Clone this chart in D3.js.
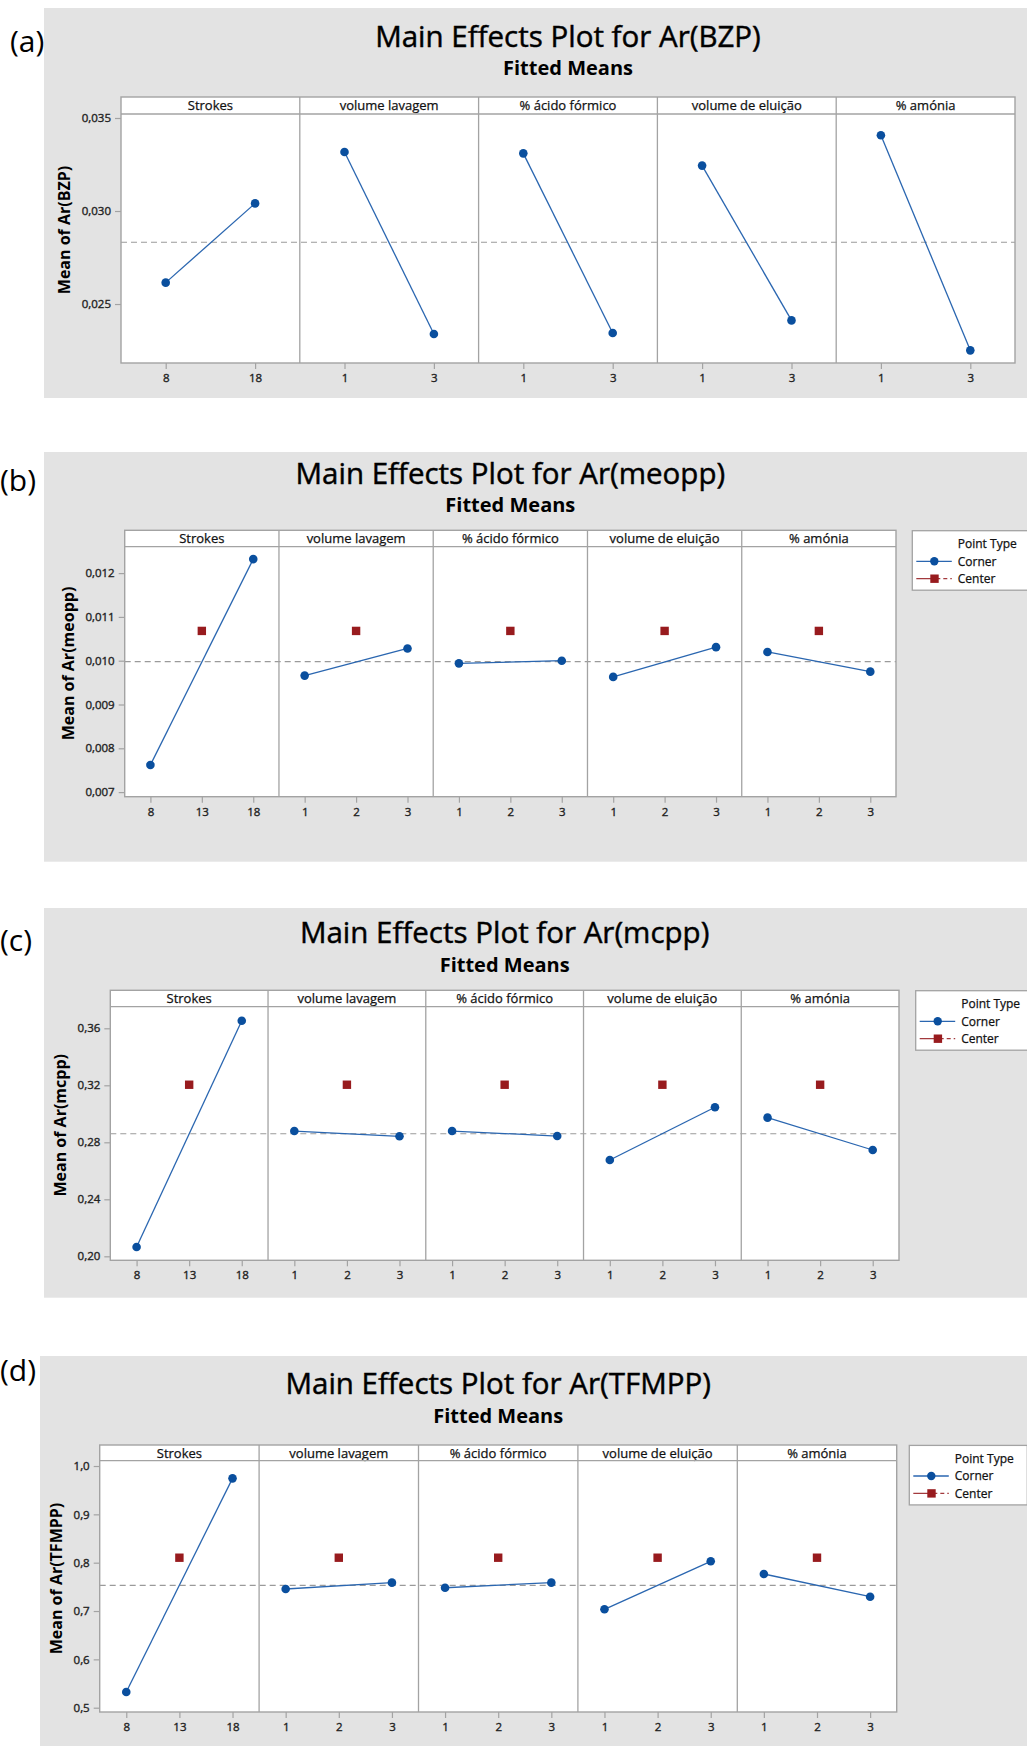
<!DOCTYPE html>
<html>
<head>
<meta charset="utf-8">
<script src="https://cdn.jsdelivr.net/npm/d3@7"></script>
<style>
  html, body { margin: 0; padding: 0; background: #ffffff; }
  svg { display: block; font-family: "Open Sans", "Noto Sans", sans-serif; }
  .heavy { stroke: currentColor; paint-order: stroke; }
</style>
</head>
<body>
<svg id="fig" width="1027" height="1746"></svg>
<script>
// Factors shown in every panel (one facet per factor)
const factors = ["Strokes", "volume lavagem", "% ácido fórmico", "volume de eluição", "% amónia"];

// Factor levels: corner-only design (a) and corner + center design (b–d)
const levelsTwo = [[8, 18], [1, 3], [1, 3], [1, 3], [1, 3]];
const levelsThree = [[8, 13, 18], [1, 2, 3], [1, 2, 3], [1, 2, 3], [1, 2, 3]];

// (a) Ar(BZP): fitted means at low / high level of each factor
const bzpCorner = [[0.02615, 0.03041], [0.03317, 0.02339], [0.03310, 0.02344], [0.03244, 0.02412], [0.03407, 0.02251]];
const bzpMean = 0.02832;
const bzpTicks = [0.025, 0.030, 0.035];

// (b) Ar(meopp)
const meoppCorner = [[0.00762, 0.01232], [0.00966, 0.01028], [0.00994, 0.01000], [0.00963, 0.01031], [0.01020, 0.00975]];
const meoppCenter = 0.01068;
const meoppMean = 0.00998;
const meoppTicks = [0.007, 0.008, 0.009, 0.010, 0.011, 0.012];

// (c) Ar(mcpp)
const mcppCorner = [[0.2065, 0.3653], [0.2879, 0.2842], [0.2879, 0.2844], [0.2676, 0.3046], [0.2973, 0.2746]];
const mcppCenter = 0.3204;
const mcppMean = 0.2860;
const mcppTicks = [0.20, 0.24, 0.28, 0.32, 0.36];

// (d) Ar(TFMPP)
const tfmppCorner = [[0.5325, 0.9745], [0.7456, 0.7587], [0.7482, 0.7587], [0.7036, 0.8029], [0.7766, 0.7296]];
const tfmppCenter = 0.8103;
const tfmppMean = 0.7532;
const tfmppTicks = [0.5, 0.6, 0.7, 0.8, 0.9, 1.0];

// Decimal comma formatting
const locale = d3.formatLocale({ decimal: ",", thousands: ".", grouping: [3], currency: ["", ""] });

const charts = [
  { tag: "(a)", tagX: 10, tagY: 52, bg: [44, 8, 983, 390],
    title: "Main Effects Plot for Ar(BZP)", titleY: 47, subY: 75,
    left: 121, right: 1015, stripTop: 97, plotTop: 114, bottom: 363,
    yDomain: [0.02183, 0.035215], ticks: bzpTicks, fmt: locale.format(".3f"),
    levels: levelsTwo, corner: bzpCorner, center: null, mean: bzpMean,
    yLabel: "Mean of Ar(BZP)", legendX: null },
  { tag: "(b)", tagX: 0, tagY: 491, bg: [44, 452, 983, 409.7],
    title: "Main Effects Plot for Ar(meopp)", titleY: 484, subY: 512,
    left: 124.7, right: 896, stripTop: 530.3, plotTop: 546.7, bottom: 796.7,
    yDomain: [0.006895, 0.012603], ticks: meoppTicks, fmt: locale.format(".3f"),
    levels: levelsThree, corner: meoppCorner, center: meoppCenter, mean: meoppMean,
    yLabel: "Mean of Ar(meopp)", legendX: 912.3 },
  { tag: "(c)", tagX: 0, tagY: 951, bg: [44, 908, 983, 389.7],
    title: "Main Effects Plot for Ar(mcpp)", titleY: 942.7, subY: 971.7,
    left: 110.3, right: 899, stripTop: 990.3, plotTop: 1006.7, bottom: 1260.3,
    yDomain: [0.1972, 0.37516], ticks: mcppTicks, fmt: locale.format(".2f"),
    levels: levelsThree, corner: mcppCorner, center: mcppCenter, mean: mcppMean,
    yLabel: "Mean of Ar(mcpp)", legendX: 915.7 },
  { tag: "(d)", tagX: 0, tagY: 1381, bg: [40, 1356, 987, 390],
    title: "Main Effects Plot for Ar(TFMPP)", titleY: 1394, subY: 1423.3,
    left: 99.7, right: 896.7, stripTop: 1445, plotTop: 1460.7, bottom: 1712,
    yDomain: [0.4911, 1.011], ticks: tfmppTicks, fmt: locale.format(".1f"),
    levels: levelsThree, corner: tfmppCorner, center: tfmppCenter, mean: tfmppMean,
    yLabel: "Mean of Ar(TFMPP)", legendX: 909.3 }
];

const COL = {
  bg: "#e3e3e3", frame: "#a3a3a3", line: "#2a66b0", dot: "#0a4f9e",
  center: "#981b1e", ref: "#9a9a9a", text: "#000", tick: "#222"
};

const svg = d3.select("#fig");

charts.forEach(c => {
  const g = svg.append("g");

  // grey chart background
  g.append("rect").attr("x", c.bg[0]).attr("y", c.bg[1])
    .attr("width", c.bg[2]).attr("height", c.bg[3]).attr("fill", COL.bg);

  // panel tag
  g.append("text").attr("x", c.tagX).attr("y", c.tagY)
    .attr("font-size", 30).attr("fill", "#000").text(c.tag);

  const cx = (c.left + c.right) / 2;
  g.append("text").attr("class", "heavy").attr("x", cx).attr("y", c.titleY).attr("text-anchor", "middle")
    .attr("font-size", 29.5).attr("fill", COL.text).style("color", COL.text)
    .attr("stroke-width", 0.45).text(c.title);
  g.append("text").attr("x", cx).attr("y", c.subY).attr("text-anchor", "middle")
    .attr("font-size", 20).attr("font-weight", "bold").attr("fill", COL.text).text("Fitted Means");

  const y = d3.scaleLinear().domain(c.yDomain).range([c.bottom, c.plotTop]);
  const band = d3.scaleBand().domain(factors).range([c.left, c.right]).padding(0);
  const pw = band.bandwidth();

  // white plotting area and strip
  g.append("rect").attr("x", c.left).attr("y", c.stripTop)
    .attr("width", c.right - c.left).attr("height", c.bottom - c.stripTop).attr("fill", "#fff");

  // mean reference line across all facets
  g.append("line").attr("x1", c.left).attr("x2", c.right)
    .attr("y1", y(c.mean)).attr("y2", y(c.mean))
    .attr("stroke", COL.ref).attr("stroke-width", 1.2).attr("stroke-dasharray", "6,4");

  // y axis
  const yAxis = g.append("g").attr("transform", `translate(${c.left},0)`)
    .call(d3.axisLeft(y).tickValues(c.ticks).tickFormat(c.fmt).tickSize(6).tickPadding(4));
  yAxis.select(".domain").remove();
  yAxis.selectAll("line").attr("stroke", COL.frame).attr("stroke-width", 1.2);
  yAxis.selectAll("text").attr("class", "heavy").attr("font-size", 11.5).attr("fill", COL.tick)
    .style("color", COL.tick).attr("stroke-width", 0.35)
    .attr("font-family", "'Open Sans', sans-serif");

  let minLeft = c.left;
  yAxis.selectAll("text").each(function () {
    const b = this.getBBox();
    minLeft = Math.min(minLeft, c.left + b.x);
  });

  // y axis title
  const ty = (c.stripTop + c.bottom) / 2;
  const tx = minLeft - 17;
  g.append("text").attr("transform", `translate(${tx},${ty}) rotate(-90)`)
    .attr("text-anchor", "middle").attr("dy", "0.35em")
    .attr("font-size", 16).attr("font-weight", "bold").attr("fill", COL.text).text(c.yLabel);

  factors.forEach((f, i) => {
    const x0 = band(f);
    const lv = c.levels[i];
    const lo = lv[0], hi = lv[lv.length - 1];
    const pad = lv.length === 2 ? (hi - lo) / 2 : (hi - lo) / 4;
    const x = d3.scaleLinear().domain([lo - pad, hi + pad]).range([x0, x0 + pw]);

    // x axis for this facet
    const xAxis = g.append("g").attr("transform", `translate(0,${c.bottom})`)
      .call(d3.axisBottom(x).tickValues(lv).tickFormat(d3.format("d")).tickSize(6).tickPadding(5));
    xAxis.select(".domain").remove();
    xAxis.selectAll("line").attr("stroke", COL.frame).attr("stroke-width", 1.2);
    xAxis.selectAll("text").attr("class", "heavy").attr("font-size", 11.5).attr("fill", COL.tick)
      .style("color", COL.tick).attr("stroke-width", 0.35)
      .attr("font-family", "'Open Sans', sans-serif");

    // strip label
    g.append("text").attr("class", "heavy").attr("x", x0 + pw / 2).attr("y", (c.stripTop + c.plotTop) / 2)
      .attr("dy", "0.36em").attr("text-anchor", "middle")
      .attr("font-size", 13).attr("fill", "#111").style("color", "#111")
      .attr("stroke-width", 0.25).text(f);

    // corner points joined by a line
    const pts = [[lo, c.corner[i][0]], [hi, c.corner[i][1]]];
    g.append("path").datum(pts)
      .attr("d", d3.line().x(d => x(d[0])).y(d => y(d[1])))
      .attr("fill", "none").attr("stroke", COL.line).attr("stroke-width", 1.3);
    g.selectAll(null).data(pts).join("circle")
      .attr("cx", d => x(d[0])).attr("cy", d => y(d[1])).attr("r", 4.3)
      .attr("fill", COL.dot);

    // center point
    if (c.center !== null) {
      const mid = lv[1];
      g.append("rect").attr("x", x(mid) - 4.2).attr("y", y(c.center) - 4.2)
        .attr("width", 8.4).attr("height", 8.4).attr("fill", COL.center);
    }

    // facet divider
    if (i > 0) {
      g.append("line").attr("x1", x0).attr("x2", x0).attr("y1", c.stripTop).attr("y2", c.bottom)
        .attr("stroke", COL.frame).attr("stroke-width", 1.3);
    }
  });

  // strip bottom line and outer frame
  g.append("line").attr("x1", c.left).attr("x2", c.right)
    .attr("y1", c.plotTop).attr("y2", c.plotTop)
    .attr("stroke", COL.frame).attr("stroke-width", 1.3);
  g.append("rect").attr("x", c.left).attr("y", c.stripTop)
    .attr("width", c.right - c.left).attr("height", c.bottom - c.stripTop)
    .attr("fill", "none").attr("stroke", COL.frame).attr("stroke-width", 1.4);

  // legend
  if (c.legendX !== null) {
    const L = c.legendX, T = c.stripTop + 0.4;
    const lg = g.append("g");
    lg.append("rect").attr("x", L).attr("y", T).attr("width", 118).attr("height", 59.5)
      .attr("fill", "#fff").attr("stroke", COL.frame).attr("stroke-width", 1.3);
    const legendText = (yy, s) => lg.append("text").attr("class", "heavy")
      .attr("x", L + 45.5).attr("y", yy).attr("dy", "0.36em")
      .attr("font-size", 12).attr("fill", "#111").style("color", "#111")
      .attr("stroke-width", 0.25).text(s);
    legendText(T + 12.8, "Point Type");
    // Corner row
    const r1 = T + 30.6;
    lg.append("line").attr("x1", L + 4).attr("x2", L + 39.5).attr("y1", r1).attr("y2", r1)
      .attr("stroke", COL.line).attr("stroke-width", 1.3);
    lg.append("circle").attr("cx", L + 22).attr("cy", r1).attr("r", 4.2).attr("fill", COL.dot);
    legendText(r1, "Corner");
    // Center row
    const r2 = T + 48;
    lg.append("line").attr("x1", L + 4).attr("x2", L + 39.5).attr("y1", r2).attr("y2", r2)
      .attr("stroke", "#a33a3d").attr("stroke-width", 1.3).attr("stroke-dasharray", "24,3,4,3,1.5,10");
    lg.append("rect").attr("x", L + 18).attr("y", r2 - 4.2).attr("width", 8.4).attr("height", 8.4)
      .attr("fill", COL.center);
    legendText(r2, "Center");
  }
});
</script>
</body>
</html>
